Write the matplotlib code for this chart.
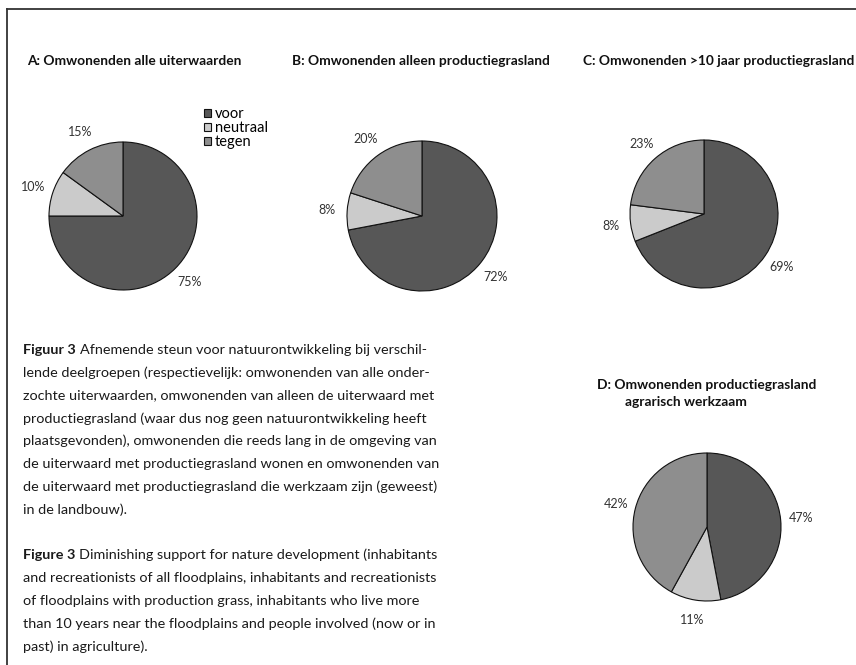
import matplotlib
matplotlib.use("Agg")
import matplotlib.pyplot as plt
from matplotlib.lines import Line2D

plt.rcParams["font.family"] = ["Lato", "DejaVu Sans"]

W, H = 856, 665

categories = ["voor", "neutraal", "tegen"]
colors = ["#575757", "#cbcbcb", "#8e8e8e"]

panel_titles = [
    "A: Omwonenden alle uiterwaarden",
    "B: Omwonenden alleen productiegrasland",
    "C: Omwonenden >10 jaar productiegrasland",
]
values_a = [75, 10, 15]
values_b = [72, 8, 20]
values_c = [69, 8, 23]
values_d = [47, 11, 42]
title_d = ["D: Omwonenden productiegrasland", "agrarisch werkzaam"]

caption_nl_head = "Figuur 3"
caption_nl = [
    "Afnemende steun voor natuurontwikkeling bij verschil-",
    "lende deelgroepen (respectievelijk: omwonenden van alle onder-",
    "zochte uiterwaarden, omwonenden van alleen de uiterwaard met",
    "productiegrasland (waar dus nog geen natuurontwikkeling heeft",
    "plaatsgevonden), omwonenden die reeds lang in de omgeving van",
    "de uiterwaard met productiegrasland wonen en omwonenden van",
    "de uiterwaard met productiegrasland die werkzaam zijn (geweest)",
    "in de landbouw).",
]
caption_en_head = "Figure 3"
caption_en = [
    "Diminishing support for nature development (inhabitants",
    "and recreationists of all floodplains, inhabitants and recreationists",
    "of floodplains with production grass, inhabitants who live more",
    "than 10 years near the floodplains and people involved (now or in",
    "past) in agriculture).",
]

fig = plt.figure(figsize=(W / 100, H / 100), dpi=100)
fig.patch.set_facecolor("white")

# full-figure axes in pixel coordinates for text and frame
tx = fig.add_axes([0, 0, 1, 1])
tx.set_xlim(0, W)
tx.set_ylim(H, 0)
tx.axis("off")

tx.add_line(Line2D([7, 7], [9, H], color="#333333", lw=1.3))
tx.add_line(Line2D([7, W], [9, 9], color="#333333", lw=1.3))


def draw_pie(cx, cy, r, values):
    ax = fig.add_axes([(cx - r) / W, 1 - (cy + r) / H, 2 * r / W, 2 * r / H])
    wedges, _, pcts = ax.pie(
        values, colors=colors, startangle=90, counterclock=False, radius=1,
        autopct="%1.0f%%", pctdistance=1.27,
        wedgeprops=dict(edgecolor="#111111", linewidth=0.8),
        textprops=dict(fontsize=9, color="#333333"),
    )
    ax.set_xlim(-1, 1)
    ax.set_ylim(-1, 1)
    ax.axis("off")
    return wedges


title_kw = dict(fontsize=9.9, fontweight="bold", color="#111111",
                va="center", ha="left")

centers = [(123, 216, 74), (422, 216, 75), (704, 214, 74)]
title_x = [27, 292, 583]
all_vals = [values_a, values_b, values_c]
for (cx, cy, r), x0, title, vals in zip(centers, title_x, panel_titles, all_vals):
    wedges = draw_pie(cx, cy, r, vals)
    tx.text(x0, 61, title, **title_kw)
    if vals is values_a:
        fig.legend(wedges, categories, loc="upper left",
                   bbox_to_anchor=(204 / W, 1 - 107 / H), frameon=False,
                   fontsize=10.5, handlelength=0.5, handleheight=0.5,
                   handletextpad=0.25, labelspacing=0.0, borderpad=0,
                   borderaxespad=0)

draw_pie(707, 527, 74, values_d)
tx.text(597, 385, title_d[0], **title_kw)
tx.text(625, 402, title_d[1], **title_kw)

renderer = fig.canvas.get_renderer()
line_h = 22.8
cap_size = 10.4


def caption(head, lines, y0):
    b = tx.text(23, y0, head, fontsize=cap_size, fontweight="bold",
                color="#1a1a1a", va="center", ha="left")
    wb = b.get_window_extent(renderer=renderer).width
    for i, line in enumerate(lines):
        x = 23 + wb + 4 if i == 0 else 23
        tx.text(x, y0 + i * line_h, line, fontsize=cap_size, color="#1a1a1a",
                va="center", ha="left")


caption(caption_nl_head, caption_nl, 350)
caption(caption_en_head, caption_en, 350 + 9 * line_h)

fig.savefig("out.png", dpi=100)
